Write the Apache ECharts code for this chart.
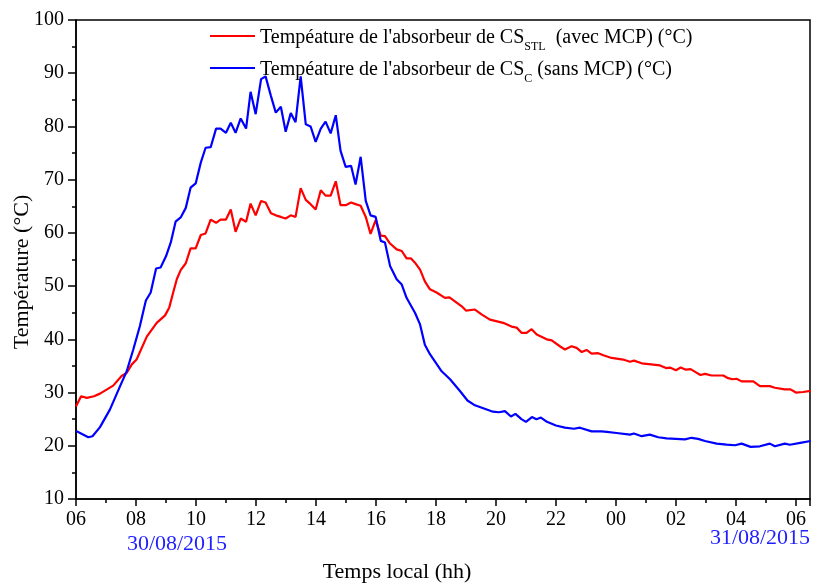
<!DOCTYPE html>
<html>
<head>
<meta charset="utf-8">
<script src="https://cdn.jsdelivr.net/npm/echarts@6/dist/echarts.min.js"></script>
<style>
  html, body { margin: 0; padding: 0; background: #fff; }
  #chart { width: 813px; height: 584px; }
</style>
</head>
<body>
<div id="chart"></div>
<script>
// heures depuis 00h le 30/08 (24 = 00h le 31/08)
const redTime = [6.00,6.17,6.36,6.60,6.80,7.24,7.52,7.69,7.86,8.02,8.36,8.69,8.97,9.11,9.24,9.36,9.49,9.66,9.82,9.99,
  10.16,10.32,10.49,10.67,10.82,11.00,11.16,11.32,11.49,11.67,11.82,11.99,12.17,12.32,12.50,12.66,12.83,12.99,13.16,13.32,
  13.49,13.66,13.82,13.99,14.16,14.32,14.49,14.66,14.82,14.99,15.17,15.32,15.49,15.66,15.82,15.99,16.16,16.30,16.47,16.69,
  16.86,17.02,17.17,17.30,17.47,17.63,17.80,18.02,18.30,18.45,18.69,18.86,19.00,19.30,19.52,19.80,20.24,20.52,20.69,20.86,
  21.02,21.19,21.36,21.69,21.86,22.13,22.30,22.52,22.69,22.86,23.02,23.19,23.41,23.58,23.86,24.24,24.47,24.60,24.86,25.47,
  25.67,25.80,26.00,26.16,26.33,26.49,26.67,26.82,26.97,27.19,27.58,27.74,27.89,28.02,28.19,28.58,28.80,29.13,29.30,29.63,
  29.82,30.00,30.24,30.49];
const redTemp = [27.4,29.3,29.0,29.3,29.8,31.3,33.1,33.7,35.3,36.2,40.5,43.1,44.5,46.0,48.8,51.3,53.0,54.3,57.1,57.1,
  59.6,59.9,62.5,61.9,62.5,62.5,64.4,60.2,62.7,62.1,65.5,63.3,66.0,65.7,63.7,63.3,63.0,62.7,63.3,63.0,
  68.4,66.2,65.4,64.4,68.0,67.0,67.0,69.7,65.2,65.2,65.7,65.4,65.1,63.0,59.8,62.4,59.5,59.4,58.0,56.9,
  56.6,55.2,55.2,54.4,53.1,50.9,49.4,48.8,47.8,47.9,46.9,46.2,45.4,45.6,44.7,43.7,43.1,42.4,42.2,41.2,
  41.2,41.9,40.9,40.0,39.8,38.7,38.1,38.7,38.4,37.6,38.0,37.3,37.4,37.0,36.5,36.2,35.8,36.0,35.5,35.1,
  34.6,34.7,34.2,34.7,34.3,34.4,33.8,33.3,33.5,33.2,33.2,32.7,32.5,32.6,32.1,32.1,31.2,31.2,30.9,30.6,
  30.6,30.0,30.1,30.3];

const blueTime = [6.00,6.20,6.41,6.55,6.80,7.13,7.47,7.69,7.91,8.13,8.27,8.33,8.49,8.67,8.82,9.00,9.16,9.32,9.49,9.66,
  9.82,9.99,10.16,10.32,10.49,10.67,10.82,11.00,11.16,11.32,11.49,11.67,11.82,11.99,12.17,12.32,12.50,12.66,12.83,12.99,
  13.16,13.32,13.49,13.66,13.82,13.99,14.16,14.32,14.49,14.66,14.82,14.99,15.17,15.32,15.49,15.66,15.82,15.99,16.16,16.30,
  16.47,16.69,16.86,17.02,17.30,17.47,17.63,17.80,18.19,18.47,18.80,19.05,19.30,19.60,19.90,20.10,20.30,20.50,20.65,20.85,
  21.00,21.20,21.35,21.50,21.70,22.00,22.30,22.60,22.80,23.19,23.52,23.70,24.02,24.47,24.60,24.86,25.13,25.41,25.69,26.30,
  26.52,26.74,26.97,27.36,27.69,27.97,28.19,28.49,28.80,29.13,29.30,29.63,29.80,30.19,30.49];
const blueTemp = [22.8,22.2,21.6,21.8,23.5,26.8,31.2,34.0,38.1,42.5,45.9,47.3,48.8,53.3,53.5,55.6,58.2,62.1,62.9,64.7,
  68.5,69.3,73.2,76.0,76.1,79.6,79.6,78.8,80.7,78.8,81.5,79.6,86.5,82.3,88.9,89.4,85.7,82.6,83.7,79.0,
  82.5,80.8,89.4,80.4,80.0,77.1,79.6,80.9,78.7,82.1,75.4,72.4,72.6,69.1,74.3,66.0,63.3,63.0,58.5,58.2,
  53.8,51.3,50.3,47.8,45.0,42.8,39.0,37.2,34.0,32.5,30.3,28.5,27.6,27.0,26.4,26.3,26.5,25.5,26.0,25.0,
  24.5,25.4,25.0,25.3,24.5,23.8,23.4,23.2,23.4,22.7,22.7,22.6,22.4,22.1,22.3,21.8,22.1,21.6,21.4,21.2,
  21.5,21.3,20.9,20.4,20.2,20.1,20.4,19.8,19.9,20.4,19.9,20.4,20.2,20.6,20.9];

const xTicks = [6, 8, 10, 12, 14, 16, 18, 20, 22, 24, 26, 28, 30];
const yTicks = [10, 20, 30, 40, 50, 60, 70, 80, 90, 100];

const redName = 'avec';
const blueName = 'sans';

function pairs(t, v) {
  const out = [];
  for (let i = 0; i < t.length; i++) out.push([t[i], v[i]]);
  return out;
}

const font = 'Liberation Serif';
const chart = echarts.init(document.getElementById('chart'));
chart.setOption({
  animation: false,
  backgroundColor: '#fff',
  textStyle: { fontFamily: font, color: '#000' },
  grid: {
    left: 76, right: 3, top: 20, bottom: 85,
    outerBoundsMode: 'none',
    show: true, borderColor: '#000', borderWidth: 1.5
  },
  legend: {
    left: 205, top: 23, orient: 'vertical',
    icon: 'rect', itemWidth: 45, itemHeight: 2, itemGap: 7,
    data: [redName, blueName],
    formatter: function (name) {
      if (name === redName) return '{a|Tempéature de l\'absorbeur de CS}{s|STL}{a|  (avec MCP) (°C)}';
      return '{a|Tempéature de l\'absorbeur de CS}{s|C}{a| (sans MCP) (°C)}';
    },
    textStyle: {
      fontFamily: font, color: '#000', padding: [4, 0, 0, 0],
      rich: {
        a: { fontFamily: font, fontSize: 20, lineHeight: 30, color: '#000' },
        s: { fontFamily: font, fontSize: 12, lineHeight: 12, verticalAlign: 'bottom', color: '#000' }
      }
    }
  },
  xAxis: {
    type: 'value', min: 6, max: 30.47, interval: 2,
    axisLine: { lineStyle: { color: '#000', width: 1.5 } },
    axisTick: { length: 7, lineStyle: { color: '#000', width: 1.5 } },
    minorTick: { show: true, splitNumber: 2, length: 4, lineStyle: { color: '#000', width: 1.5 } },
    splitLine: { show: false },
    axisLabel: {
      fontFamily: font, fontSize: 20, color: '#000', margin: 11, showMaxLabel: false,
      formatter: function (v) {
        if (xTicks.indexOf(v) < 0) return '';
        const h = v % 24;
        return (h < 10 ? '0' : '') + h;
      }
    }
  },
  yAxis: {
    type: 'value', min: 10, max: 100, interval: 10,
    axisLine: { lineStyle: { color: '#000', width: 1.5 } },
    axisTick: { length: 8, lineStyle: { color: '#000', width: 1.5 } },
    minorTick: { show: true, splitNumber: 2, length: 4, lineStyle: { color: '#000', width: 1.5 } },
    splitLine: { show: false },
    axisLabel: {
      fontFamily: font, fontSize: 20, color: '#000', margin: 12,
      formatter: function (v) { return yTicks.indexOf(v) >= 0 ? String(v) : ''; }
    }
  },
  graphic: [
    { type: 'text', x: 22, y: 272, rotation: Math.PI / 2,
      style: { text: 'Température (°C)', font: '22px "Liberation Serif"', fill: '#000', textAlign: 'center', textVerticalAlign: 'middle' } },
    { type: 'text', x: 397, y: 572,
      style: { text: 'Temps local (hh)', font: '22px "Liberation Serif"', fill: '#000', textAlign: 'center', textVerticalAlign: 'middle' } },
    { type: 'text', x: 177, y: 544,
      style: { text: '30/08/2015', font: '22px "Liberation Serif"', fill: '#1f1fff', textAlign: 'center', textVerticalAlign: 'middle' } },
    { type: 'text', x: 760, y: 538,
      style: { text: '31/08/2015', font: '22px "Liberation Serif"', fill: '#1f1fff', textAlign: 'center', textVerticalAlign: 'middle' } }
  ],
  series: [
    {
      name: redName, type: 'line', symbol: 'none',
      data: pairs(redTime, redTemp),
      lineStyle: { color: '#ff0000', width: 2.2 }, itemStyle: { color: '#ff0000' }
    },
    {
      name: blueName, type: 'line', symbol: 'none',
      data: pairs(blueTime, blueTemp),
      lineStyle: { color: '#0000ff', width: 2.2 }, itemStyle: { color: '#0000ff' }
    }
  ]
});
</script>
</body>
</html>
